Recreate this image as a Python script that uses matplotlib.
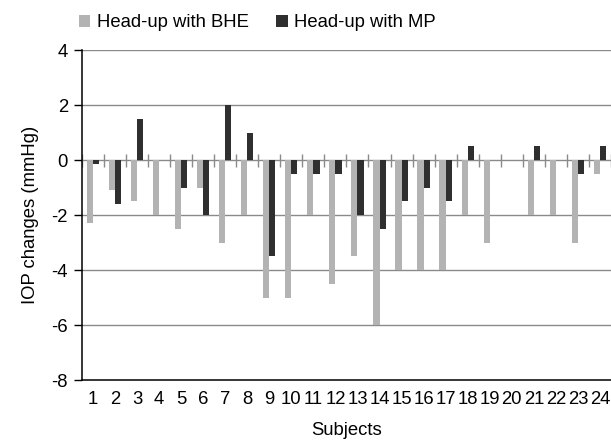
import matplotlib
matplotlib.use("Agg")
import matplotlib.pyplot as plt
import numpy as np

plt.rcParams.update({
    "font.family": ["Liberation Sans", "DejaVu Sans"],
    "font.size": 13.3,
    "axes.unicode_minus": False,   # the reference uses plain hyphens
    "figure.dpi": 100,
})

# IOP change per subject (mmHg)
subjects = [str(i) for i in range(1, 25)]
bhe = [-2.3, -1.1, -1.5, -2.0, -2.5, -1.0, -3.0, -2.0, -5.0, -5.0, -2.0, -4.5,
       -3.5, -6.0, -4.0, -4.0, -4.0, -2.0, -3.0, 0.0, -2.0, -2.0, -3.0, -0.5]
mp = [-0.15, -1.6, 1.5, 0.0, -1.0, -2.0, 2.0, 1.0, -3.5, -0.5, -0.5, -0.5,
      -2.0, -2.5, -1.5, -1.0, -1.5, 0.5, 0.0, 0.0, 0.5, 0.0, -0.5, 0.5]
yticks = [-8, -6, -4, -2, 0, 2, 4]

C_BHE = "#b3b3b3"
C_MP = "#2f2f2f"
GRID = "#8a8a8a"

fig = plt.figure(figsize=(6.11, 4.40))
ax = fig.add_axes([0.134, 0.136, 0.866, 0.750])

x = np.arange(1, len(subjects) + 1)
w = 0.28
ax.bar(x - w / 2, bhe, width=w, color=C_BHE, label="Head-up with BHE", zorder=3)
ax.bar(x + w / 2, mp, width=w, color=C_MP, label="Head-up with MP", zorder=3)

# horizontal gridlines and the zero axis with category tick marks
for v in yticks[1:]:
    ax.axhline(v, color=GRID, lw=1.0, zorder=1)
bounds = np.arange(0.5, len(subjects) + 1, 1.0)
ax.vlines(bounds, -0.24, 0.24, color=GRID, lw=1.0, zorder=2)

ax.set_xlim(0.5, len(subjects) + 0.5)
ax.set_ylim(-8, 4)
ax.set_yticks(yticks)
ax.set_xticks(x)
ax.set_xticklabels(subjects)
ax.tick_params(axis="x", length=0, pad=8)
ax.tick_params(axis="y", length=6, width=1.0, direction="out", pad=4)
ax.spines[["top", "right"]].set_visible(False)
ax.spines["left"].set_color("black")
ax.spines["bottom"].set_color("black")
ax.spines["left"].set_linewidth(1.1)
ax.spines["bottom"].set_linewidth(1.1)

ax.set_ylabel("IOP changes (mmHg)", labelpad=9)
ax.set_xlabel("Subjects", labelpad=10)

fig.legend(loc="center", bbox_to_anchor=(0.4214, 0.948), ncol=2, frameon=False,
           handlelength=0.6, handleheight=0.6, handletextpad=0.35,
           columnspacing=1.5, borderpad=0, borderaxespad=0)

fig.savefig("out.png", dpi=100)
